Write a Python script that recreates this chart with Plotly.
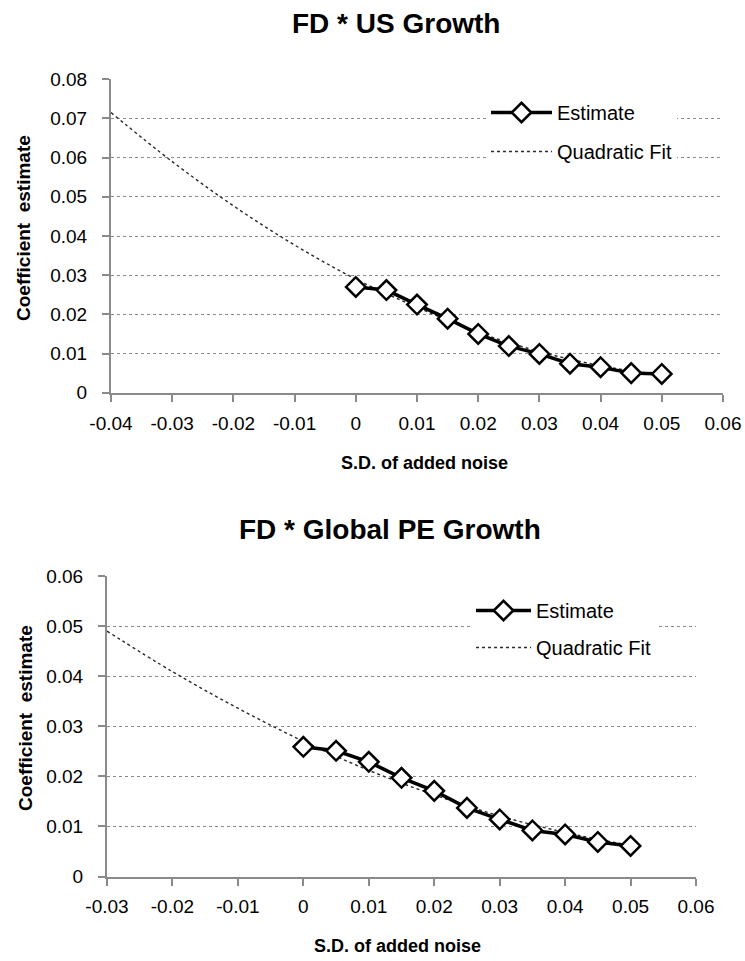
import plotly.graph_objects as go

# ---- data ----
noise_sd = [0.0, 0.005, 0.01, 0.015, 0.02, 0.025, 0.03, 0.035, 0.04, 0.045, 0.05]
us_estimate = [0.0270, 0.0262, 0.0225, 0.0189, 0.0150, 0.0119, 0.0099, 0.0074, 0.0065, 0.0050, 0.0048]
us_fit_x = [-0.04, -0.03, -0.02, -0.01, 0.0, 0.01, 0.02, 0.03, 0.04, 0.05]
us_fit_y = [0.0715, 0.0590, 0.0477, 0.0377, 0.0290, 0.0218, 0.0154, 0.0105, 0.0069, 0.0045]

pe_estimate = [0.0259, 0.0251, 0.0229, 0.0197, 0.0171, 0.0137, 0.0114, 0.0092, 0.0084, 0.0069, 0.0061]
pe_fit_x = [-0.03, -0.02, -0.01, 0.0, 0.01, 0.02, 0.03, 0.04, 0.05]
pe_fit_y = [0.0490, 0.0409, 0.0336, 0.0270, 0.0212, 0.0163, 0.0121, 0.0088, 0.0062]

us_xticks = [-0.04, -0.03, -0.02, -0.01, 0, 0.01, 0.02, 0.03, 0.04, 0.05, 0.06]
us_xtext = ["-0.04", "-0.03", "-0.02", "-0.01", "0", "0.01", "0.02", "0.03", "0.04", "0.05", "0.06"]
us_yticks = [0, 0.01, 0.02, 0.03, 0.04, 0.05, 0.06, 0.07, 0.08]
us_ytext = ["0", "0.01", "0.02", "0.03", "0.04", "0.05", "0.06", "0.07", "0.08"]
pe_xticks = [-0.03, -0.02, -0.01, 0, 0.01, 0.02, 0.03, 0.04, 0.05, 0.06]
pe_xtext = ["-0.03", "-0.02", "-0.01", "0", "0.01", "0.02", "0.03", "0.04", "0.05", "0.06"]
pe_yticks = [0, 0.01, 0.02, 0.03, 0.04, 0.05, 0.06]
pe_ytext = ["0", "0.01", "0.02", "0.03", "0.04", "0.05", "0.06"]

W, H = 745, 961
FONT = "Liberation Sans, Arial, sans-serif"


def px_x(p):
    return p / W


def px_y(p):
    return 1 - p / H


fig = go.Figure()

fit_line = dict(color="#2a2a2a", width=1.4, dash="dot", shape="spline")
est_line = dict(color="black", width=3.5)
est_marker = dict(symbol="diamond", size=15, color="white", line=dict(color="black", width=2.5))

# Top chart traces
fig.add_trace(go.Scatter(x=us_fit_x, y=us_fit_y, mode="lines", name="Quadratic Fit",
                         line=fit_line, xaxis="x", yaxis="y", legend="legend",
                         legendgroup="b", legendrank=2))
fig.add_trace(go.Scatter(x=noise_sd, y=us_estimate, mode="lines+markers", name="Estimate",
                         line=est_line, marker=est_marker, xaxis="x", yaxis="y",
                         legend="legend", legendgroup="a", legendrank=1))

# Bottom chart traces
fig.add_trace(go.Scatter(x=pe_fit_x, y=pe_fit_y, mode="lines", name="Quadratic Fit",
                         line=fit_line, xaxis="x2", yaxis="y2", legend="legend2",
                         legendgroup="d", legendrank=2))
fig.add_trace(go.Scatter(x=noise_sd, y=pe_estimate, mode="lines+markers", name="Estimate",
                         line=est_line, marker=est_marker, xaxis="x2", yaxis="y2",
                         legend="legend2", legendgroup="c", legendrank=1))

axis_common = dict(showline=True, linecolor="#8a8a8a", linewidth=2, ticks="outside",
                   tickcolor="#8a8a8a", ticklen=7, tickwidth=2, zeroline=False,
                   automargin=False,
                   tickfont=dict(family=FONT, size=19, color="black"), mirror=False)
grid_y = dict(showgrid=True, gridcolor="#8a8a8a", griddash="dot", gridwidth=1)

fig.update_layout(
    width=W, height=H, margin=dict(l=0, r=0, t=0, b=0),
    paper_bgcolor="white", plot_bgcolor="white",
    font=dict(family=FONT, color="black"),
    xaxis=dict(domain=[px_x(111), px_x(723)], range=[-0.04, 0.06], tickvals=us_xticks,
               ticktext=us_xtext, showgrid=False, anchor="y", ticklabelstandoff=5,
               **axis_common),
    yaxis=dict(domain=[px_y(392.7), px_y(79.3)], range=[0, 0.08], tickvals=us_yticks,
               ticktext=us_ytext, anchor="x", ticklabelstandoff=11, **grid_y, **axis_common),
    xaxis2=dict(domain=[px_x(107), px_x(696)], range=[-0.03, 0.06], tickvals=pe_xticks,
                ticktext=pe_xtext, showgrid=False, anchor="y2", ticklabelstandoff=5,
                **axis_common),
    yaxis2=dict(domain=[px_y(876.5), px_y(576)], range=[0, 0.06], tickvals=pe_yticks,
                ticktext=pe_ytext, anchor="x2", ticklabelstandoff=11, **grid_y, **axis_common),
    legend=dict(x=px_x(486), y=px_y(93), xanchor="left", yanchor="top", bgcolor="white",
                font=dict(family=FONT, size=20), tracegroupgap=10, itemwidth=61,
                borderwidth=0),
    legend2=dict(x=px_x(471), y=px_y(591), xanchor="left", yanchor="top", bgcolor="white",
                 font=dict(family=FONT, size=20), tracegroupgap=8, itemwidth=55,
                 borderwidth=0),
    showlegend=True,
)

annots = [
    dict(text="<b>FD * US Growth</b>", x=px_x(396), y=px_y(24), font=dict(size=28)),
    dict(text="<b>FD * Global PE Growth</b>", x=px_x(390), y=px_y(529), font=dict(size=28)),
    dict(text="<b>S.D. of added noise</b>", x=px_x(425), y=px_y(463), font=dict(size=18)),
    dict(text="<b>S.D. of added noise</b>", x=px_x(397), y=px_y(946), font=dict(size=18)),
    dict(text="<b>Coefficient  estimate</b>", x=px_x(24), y=px_y(228), font=dict(size=19),
         textangle=-90),
    dict(text="<b>Coefficient  estimate</b>", x=px_x(25), y=px_y(718), font=dict(size=19),
         textangle=-90),
]
for a in annots:
    fig.add_annotation(xref="paper", yref="paper", showarrow=False,
                       xanchor="center", yanchor="middle", **a)

fig.write_html("out.html", config={"displayModeBar": False},
               post_script="document.body.style.margin='0px';document.body.style.overflow='hidden';")
